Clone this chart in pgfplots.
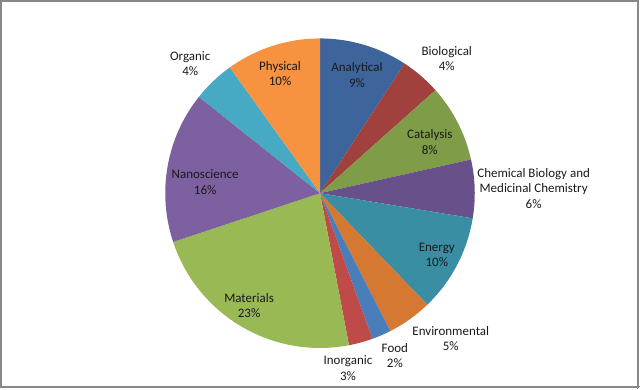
\documentclass[border=0pt]{standalone}
\usepackage{pgfplots}
\pgfplotsset{compat=1.18}
\usepackage{pgfplotstable}
\usepackage{fontspec}
\setmainfont{Carlito}

\definecolor{cAna}{RGB}{62,101,155}
\definecolor{cBio}{RGB}{160,65,62}
\definecolor{cCat}{RGB}{127,157,72}
\definecolor{cChe}{RGB}{104,81,138}
\definecolor{cEne}{RGB}{57,142,164}
\definecolor{cEnv}{RGB}{213,120,50}
\definecolor{cFoo}{RGB}{74,126,187}
\definecolor{cIno}{RGB}{190,75,72}
\definecolor{cMat}{RGB}{152,185,84}
\definecolor{cNan}{RGB}{125,96,160}
\definecolor{cOrg}{RGB}{70,170,197}
\definecolor{cPhy}{RGB}{246,146,64}
\definecolor{frame}{RGB}{136,136,136}

% share of each field in percent, clockwise from 12 o'clock
\pgfplotstableread{
name value col
Analytical 9.2 cAna
Biological 4.2 cBio
Catalysis 8.1 cCat
ChemBio 6.1 cChe
Energy 10.2 cEne
Environmental 4.7 cEnv
Food 2.0 cFoo
Inorganic 2.5 cIno
Materials 22.9 cMat
Nanoscience 15.8 cNan
Organic 4.4 cOrg
Physical 9.9 cPhy
}\piedata

\begin{document}
\begin{tikzpicture}[
  lab/.style={align=center, text=black!90, inner sep=0pt,
    font=\fontsize{13bp}{15.5bp}\selectfont},
]
\begin{axis}[
  x=155bp, y=155bp,
  xmin=-2.064516, xmax=2.064516,
  ymin=-1.264516, ymax=1.245161,
  hide axis, clip=false,
]
\pgfplotsextra{%
  \gdef\cum{0}%
  \pgfplotstableforeachcolumnelement{value}\of\piedata\as\val{%
    \pgfplotstablegetelem{\pgfplotstablerow}{col}\of\piedata
    \let\slicecol\pgfplotsretval
    \pgfmathsetmacro\sa{90-3.6*\cum}%
    \pgfmathsetmacro\ea{90-3.6*(\cum+\val)}%
    \fill[\slicecol] (axis cs:0,0) -- ++(\sa:155bp) arc[start angle=\sa, end angle=\ea, radius=155bp] -- cycle;
    \pgfmathsetmacro\newcum{\cum+\val}%
    \xdef\cum{\newcum}%
  }%
}
\draw[frame, line width=2bp] ([shift={(1bp,1.5bp)}]rel axis cs:0,0) rectangle ([shift={(-1.5bp,-1bp)}]rel axis cs:1,1);
\draw[frame, line width=1bp] ([shift={(-2.5bp,0bp)}]rel axis cs:1,0) -- ([shift={(-2.5bp,0bp)}]rel axis cs:1,1);
\draw[frame, line width=1bp] ([shift={(0bp,2.5bp)}]rel axis cs:0,0) -- ([shift={(0bp,2.5bp)}]rel axis cs:1,0);

\node[lab] at (axis cs:{(357-320)/155},{(193-74.7)/155}) {Analytical\\9\%};
\node[lab] at (axis cs:{(447-320)/155},{(193-58)/155}) {Biological\\4\%};
\node[lab] at (axis cs:{(430-320)/155},{(193-141.7)/155}) {Catalysis\\8\%};
\node[lab] at (axis cs:{(534-320)/155},{(193-188.3)/155}) {Chemical Biology and\\Medicinal Chemistry\\6\%};
\node[lab] at (axis cs:{(437-320)/155},{(193-255)/155}) {Energy\\10\%};
\node[lab] at (axis cs:{(451-320)/155},{(193-338.5)/155}) {Environmental\\5\%};
\node[lab] at (axis cs:{(395-320)/155},{(193-355.5)/155}) {Food\\2\%};
\node[lab] at (axis cs:{(348-320)/155},{(193-368.3)/155}) {Inorganic\\3\%};
\node[lab] at (axis cs:{(249-320)/155},{(193-305.3)/155}) {Materials\\23\%};
\node[lab] at (axis cs:{(205-320)/155},{(193-182)/155}) {Nanoscience\\16\%};
\node[lab] at (axis cs:{(190-320)/155},{(193-63)/155}) {Organic\\4\%};
\node[lab] at (axis cs:{(280-320)/155},{(193-73)/155}) {Physical\\10\%};
\end{axis}
\end{tikzpicture}
\end{document}
